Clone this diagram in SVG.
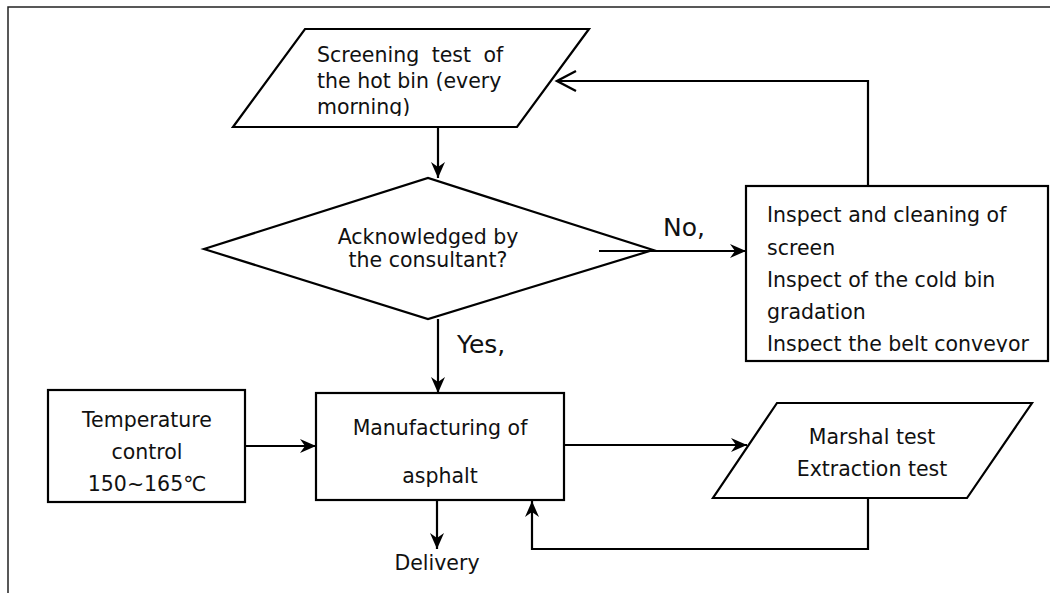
<svg xmlns="http://www.w3.org/2000/svg" width="1050" height="593" viewBox="0 0 1050 593">
  <style>
    .shape { fill: #fff; stroke: #000; stroke-width: 2.2; }
    .link { fill: none; stroke: #000; stroke-width: 2.2; }
    .txt { font-family: "DejaVu Sans", Verdana, sans-serif; font-size: 20.5px; fill: #111; }
    .mid { text-anchor: middle; }
    .big { font-size: 25px; }
  </style>
  <defs>
    <marker id="arrow" markerUnits="userSpaceOnUse" viewBox="0 -8 18 16" markerWidth="18" markerHeight="16" refX="16" refY="0" orient="auto">
      <path d="M0,-7 L16,0 L0,7 L5,0 z" fill="#000"/>
    </marker>
    <marker id="openArrow" markerUnits="userSpaceOnUse" viewBox="-2 -12 24 24" markerWidth="24" markerHeight="24" refX="19" refY="0" orient="auto">
      <path d="M0,-10 L19,0 L0,10" fill="none" stroke="#000" stroke-width="2.4"/>
    </marker>
    <clipPath id="clipScreening"><rect x="240" y="30" width="345" height="86"/></clipPath>
    <clipPath id="clipInspect"><rect x="747" y="187" width="300" height="165"/></clipPath>
  </defs>

  <!-- page frame -->
  <rect x="8" y="7" width="1100" height="700" fill="none" stroke="#222" stroke-width="1.5"/>

  <g id="screening">
    <polygon class="shape" points="305,29 589,29 517,127 233,127"/>
    <g clip-path="url(#clipScreening)">
      <text class="txt" x="317" y="62" word-spacing="6">Screening test of</text>
      <text class="txt" x="317" y="88">the hot bin (every</text>
      <text class="txt" x="317" y="114">morning)</text>
    </g>
  </g>

  <g id="decision">
    <polygon class="shape" points="204,249 428,178 653,250 428,319"/>
    <text class="txt mid" x="428" y="244">Acknowledged by</text>
    <text class="txt mid" x="428" y="267">the consultant?</text>
  </g>

  <g id="inspect">
    <rect class="shape" x="746" y="186" width="302" height="175"/>
    <g clip-path="url(#clipInspect)">
      <text class="txt" x="767" y="222">Inspect and cleaning of</text>
      <text class="txt" x="767" y="255">screen</text>
      <text class="txt" x="767" y="287">Inspect of the cold bin</text>
      <text class="txt" x="767" y="319">gradation</text>
      <text class="txt" x="767" y="351">Inspect the belt conveyor</text>
    </g>
  </g>

  <g id="temperature">
    <rect class="shape" x="48" y="390" width="197" height="112"/>
    <text class="txt mid" x="147" y="427">Temperature</text>
    <text class="txt mid" x="147" y="459">control</text>
    <text class="txt mid" x="147" y="491">150~165℃</text>
  </g>

  <g id="manufacturing">
    <rect class="shape" x="316" y="393" width="248" height="107"/>
    <text class="txt mid" x="440" y="435">Manufacturing of</text>
    <text class="txt mid" x="440" y="483">asphalt</text>
  </g>

  <g id="marshal">
    <polygon class="shape" points="777,403 1032,403 967,498 713,498"/>
    <text class="txt mid" x="872" y="444">Marshal test</text>
    <text class="txt mid" x="872" y="476">Extraction test</text>
  </g>

  <g id="delivery">
    <text class="txt mid" x="437" y="570">Delivery</text>
  </g>

  <g id="connectors">
    <path class="link" d="M438,127 V178" marker-end="url(#arrow)"/>
    <path class="link" d="M599,251 H746" marker-end="url(#arrow)"/>
    <path class="link" d="M868,186 V81 H557" marker-end="url(#openArrow)"/>
    <path class="link" d="M438,319 V393" marker-end="url(#arrow)"/>
    <path class="link" d="M245,446 H316" marker-end="url(#arrow)"/>
    <path class="link" d="M564,445 H747" marker-end="url(#arrow)"/>
    <path class="link" d="M437,500 V549" marker-end="url(#arrow)"/>
    <path class="link" d="M868,498 V549 H532 V501" marker-end="url(#arrow)"/>
    <text class="txt big" x="663" y="236">No,</text>
    <text class="txt big" x="457" y="353">Yes,</text>
  </g>
</svg>
